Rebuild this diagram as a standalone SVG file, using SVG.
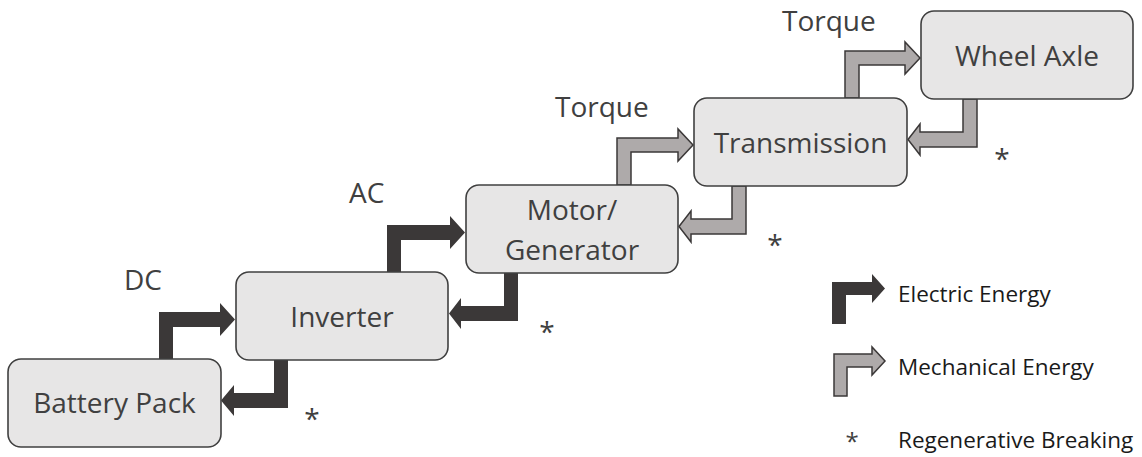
<svg xmlns="http://www.w3.org/2000/svg" width="1142" height="457" viewBox="0 0 1142 457">
<style>
.box{fill:#e7e6e6;stroke:#404040;stroke-width:1.6}
.lbl{font-family:"Open Sans","Noto Sans",sans-serif;font-size:28px;fill:#404040}
.mid{text-anchor:middle}
.elec{fill:#3b3838;stroke:none}
.mech{fill:#aeaaaa;stroke:#3b3838;stroke-width:1.5;stroke-linejoin:miter}
.ast{font-family:"Open Sans","Noto Sans",sans-serif;font-size:28px;fill:#404040;text-anchor:middle}
.leg{font-family:"Open Sans","Noto Sans",sans-serif;font-size:22.5px;fill:#1a1a1a}
</style>
<rect width="1142" height="457" fill="#ffffff"/>
<g id="connectors">
<path class="elec" d="M159,359 V312 H220 V303 L235,319.5 L220,336 V327 H173 V359 Z"/>
<path class="elec" d="M288,360 V408 H234 V416 L221,400.5 L234,385 V393 H274 V360 Z"/>
<path class="elec" d="M387,272 V225 H450 V216 L465,232.5 L450,249 V240 H401 V272 Z"/>
<path class="elec" d="M518,273 V321 H461 V329 L449,313.5 L461,298 V306 H504 V273 Z"/>
<path class="mech" d="M617,185 V138 H678 V129 L693,145 L678,161 V152 H631 V185 Z"/>
<path class="mech" d="M746,186 V234 H691 V242 L679,226.5 L691,211 V219 H732 V186 Z"/>
<path class="mech" d="M845,98 V51 H905 V42 L920,58 L905,74 V65 H859 V98 Z"/>
<path class="mech" d="M977,99 V147 H920 V155 L908,139.5 L920,124 V132 H963 V99 Z"/>
</g>
<g id="battery">
<rect class="box" x="8" y="359" width="213" height="88" rx="13"/>
<text class="lbl mid" x="114.5" y="413">Battery Pack</text>
</g>
<g id="inverter">
<rect class="box" x="236" y="272" width="212" height="88" rx="13"/>
<text class="lbl mid" x="342" y="327">Inverter</text>
</g>
<g id="motor">
<rect class="box" x="466" y="185" width="212" height="88" rx="13"/>
<text class="lbl mid" x="572" y="220">Motor/</text>
<text class="lbl mid" x="572" y="260">Generator</text>
</g>
<g id="transmission">
<rect class="box" x="694" y="98" width="213" height="88" rx="13"/>
<text class="lbl mid" x="800.5" y="153">Transmission</text>
</g>
<g id="wheel">
<rect class="box" x="921" y="11" width="212" height="88" rx="13"/>
<text class="lbl mid" x="1027" y="66">Wheel Axle</text>
</g>
<g id="labels">
<text class="lbl" x="124" y="290">DC</text>
<text class="lbl" x="349" y="203">AC</text>
<text class="lbl" x="555" y="117">Torque</text>
<text class="lbl" x="782" y="31">Torque</text>
<text class="ast" x="312" y="429">*</text>
<text class="ast" x="547" y="342">*</text>
<text class="ast" x="775" y="255">*</text>
<text class="ast" x="1002" y="169">*</text>
</g>
<g id="legend">
<path class="elec" d="M832,324 V282 H872 V274 L885,288.5 L872,303 V295 H846 V324 Z"/>
<text class="leg" x="898" y="302">Electric Energy</text>
<path class="mech" d="M834,396 V354 H872 V347 L885,361 L872,375 V367 H847 V396 Z"/>
<text class="leg" x="898" y="375">Mechanical Energy</text>
<text class="ast" x="852" y="450" style="font-size:24px">*</text>
<text class="leg" x="898" y="448">Regenerative Breaking</text>
</g>
</svg>
